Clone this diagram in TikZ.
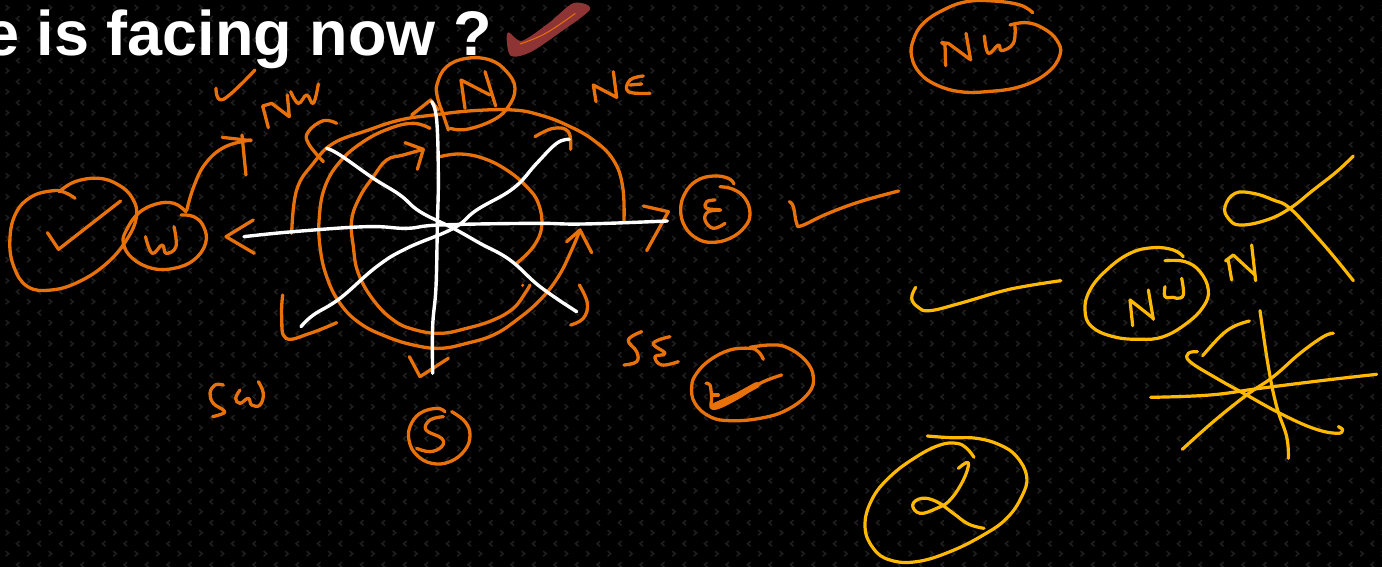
\documentclass[tikz,border=0pt]{standalone}
\usepackage{fontspec}
\setmainfont{Liberation Sans}
\definecolor{inkorange}{HTML}{E8710A}
\definecolor{inkgold}{HTML}{FFB900}
\definecolor{inkred}{HTML}{8E3434}
\definecolor{tex}{HTML}{1F1F1F}
\tikzset{
  ink/.style={draw=inkorange,line width=3.3pt,line cap=round,line join=round},
  gold/.style={draw=inkgold,line width=3.2pt,line cap=round,line join=round},
  chalk/.style={draw=white,line width=3.4pt,line cap=round,line join=round},
  sm/.style={smooth,tension=0.7},
  zA/.style={xshift=200pt,yshift=-60pt,x=0.33333pt,y=-0.33333pt},
  zB/.style={xshift=1060pt,yshift=-140pt,x=0.33333pt,y=-0.33333pt},
  zC/.style={x=0.3954pt,y=-0.33333pt},
  zD/.style={xshift=880pt,x=0.33333pt,y=-0.33333pt},
  zE/.style={xshift=660pt,yshift=-160pt,x=0.33333pt,y=-0.33333pt},
  zF/.style={xshift=680pt,yshift=-330pt,x=0.33333pt,y=-0.33333pt},
  zG/.style={xshift=190pt,yshift=-370pt,x=0.33333pt,y=-0.33333pt},
  zH/.style={xshift=850pt,yshift=-270pt,x=0.33333pt,y=-0.33333pt},
}
\begin{document}
\begin{tikzpicture}[x=1pt,y=-1pt]
\useasboundingbox (0,0) rectangle (1382,567);
\clip (0,0) rectangle (1382,567);
\fill[black] (0,0) rectangle (1382,567);
% background texture
\foreach \r in {0,...,27}{
  \foreach \c in {0,...,65}{
    \pgfmathsetmacro{\px}{7.2+21.5*\c}
    \pgfmathsetmacro{\pya}{7.7+21*\r}
    \pgfmathsetmacro{\pxb}{18+21.5*\c-21.5}
    \pgfmathsetmacro{\pyb}{18.7+21*\r}
    \draw[tex,line width=1.5pt] (\px-1.5,\pya-2.5)--(\px+1.5,\pya)--(\px-1.5,\pya+2.5);
    \draw[tex,line width=1.5pt] (\pxb+1.5,\pyb-2.5)--(\pxb-1.5,\pyb)--(\pxb+1.5,\pyb+2.5);
  }
}
% title
\node[anchor=base west,inner sep=0pt,text=white,font=\fontsize{63}{63}\selectfont\bfseries] (title) at (-16,56) {e is facing now ?};

% compass orange strokes
\begin{scope}[zA]
\draw[ink] plot[sm] coordinates {(1272,485)(1268,380)(1240,300)(1180,240)(1100,195)(1020,165)(940,150)(820,152)(700,165)(600,180)(500,212)(400,250)(340,310)(290,390)(275,520)};
\draw[ink] plot[sm] coordinates {(690,205)(640,190)(570,205)(490,245)(420,305)(375,380)(358,470)(360,560)(380,650)(420,730)(480,790)(560,830)(640,855)(720,865)(800,850)(880,825)(950,780)(1020,720)(1075,650)(1115,570)(1140,510)};
\draw[ink] (1100,545)--(1140,510)--(1175,578);
\draw[ink] plot[sm] coordinates {(720,290)(780,282)(850,295)(920,330)(980,380)(1015,430)(1025,500)(1000,560)(950,610)};
\draw[ink] plot[sm] coordinates {(670,268)(610,285)(560,300)(520,350)(480,410)(455,480)(460,560)(475,640)(520,720)(580,780)(640,808)(720,820)(800,805)(880,780)(940,745)(975,700)(990,675)};
\draw[ink] (615,248)--(670,268)--(652,328);
\fill[inkorange] (968,676) circle (5);
\draw[ink] plot[sm] coordinates {(410,190)(370,182)(325,215)(325,250)(370,305)};
\draw[ink] plot[sm] coordinates {(1005,230)(1060,205)(1105,215)(1112,268)};
\draw[ink] (1330,438)--(1405,455)--(1340,572);
\draw[ink] (160,480)--(78,530)--(163,580);
\draw[ink] plot[sm] coordinates {(248,705)(245,770)(258,835)(330,820)(410,788)};
\draw[ink] plot[sm] coordinates {(1138,675)(1162,730)(1150,775)(1112,795)};
\draw[ink] (628,890)--(660,950)--(745,895);
\draw[ink] (635,165)--(692,120)--(715,150);
% N circle and letter
\draw[ink] plot[sm] coordinates {(745,210)(730,165)(712,110)(712,70)(740,20)(800,-5)(870,0)(920,35)(945,85)(925,140)(880,180)(800,208)(750,205)};
\draw[ink] (795,145)--(783,60)--(870,105);
\draw[ink] (855,35)--(887,138);
% NW
\draw[ink] (205,203)--(188,138)--(215,130)--(268,170)--(262,105);
\draw[ink] plot[sm] coordinates {(272,95)(295,130)(320,105)(340,130)(355,72)};
\draw[ink] plot[sm] coordinates {(48,85)(70,118)(165,30)};
% NE
\draw[ink] (1188,125)--(1180,75)--(1250,112)--(1240,35);
\draw[ink] plot[sm] coordinates {(1330,48)(1290,60)(1285,95)(1350,100)};
\draw[ink] (1290,75)--(1325,72);
% SE
\draw[ink] plot[sm] coordinates {(1325,815)(1285,840)(1310,875)(1310,905)(1272,915)};
\draw[ink] plot[sm] coordinates {(1410,830)(1360,850)(1395,880)(1365,890)(1385,915)(1435,905)};
% white lines
\draw[chalk] plot[sm] coordinates {(695,125)(710,180)(715,350)(712,500)(708,680)(698,800)(698,940)};
\draw[chalk] plot[sm] coordinates {(132,530)(280,515)(500,500)(620,505)(720,495)(1000,490)(1150,492)(1402,483)};
\draw[chalk] plot[sm] coordinates {(380,265)(420,285)(520,355)(600,405)(660,455)(760,505)(840,550)(930,600)(1020,680)(1130,755)};
\draw[chalk] plot[sm] coordinates {(303,800)(340,765)(420,715)(530,620)(620,565)(760,505)(830,450)(940,385)(1010,310)(1070,250)(1108,238)};
\end{scope}

% W group and red check
\begin{scope}[zC]
\draw[ink] plot[sm] coordinates {(150,575)(190,545)(250,535)(300,555)(335,595)(345,650)(320,720)(270,790)(200,845)(130,870)(70,860)(35,800)(25,720)(40,640)(80,590)(135,572)(165,578)(190,595)};
\draw[ink] (120,698)--(148,748)--(305,603);
\draw[ink] plot[sm] coordinates {(470,635)(440,610)(395,612)(350,640)(320,690)(312,730)(335,775)(385,805)(440,805)(490,780)(520,730)(515,680)(490,650)(458,645)};
\draw[ink] plot[sm] coordinates {(368,710)(385,760)(410,735)(420,760)(445,740)(440,680)};
\draw[ink] plot[sm] coordinates {(472,632)(490,560)(520,490)(570,440)(635,420)};
\draw[ink] (562,412)--(635,422);
\draw[ink] (612,405)--(622,525);
\fill[inkred,draw=inkred,line width=1.5pt,line join=round] plot[smooth cycle,tension=0.5] coordinates {(1285,100)(1292,165)(1340,155)(1410,100)(1490,28)(1450,12)(1390,70)(1320,125)};
\draw[inkorange,line width=1pt] plot[sm] coordinates {(1315,132)(1380,100)(1455,40)};
\end{scope}

% top right NW
\begin{scope}[zD]
\draw[ink] plot[sm] coordinates {(458,38)(420,15)(340,3)(260,5)(190,30)(130,70)(100,120)(95,170)(120,220)(170,255)(240,275)(320,275)(420,260)(500,220)(540,165)(530,120)(490,85)(440,68)(390,75)};
\draw[ink] (197,197)--(195,135)--(185,128)--(205,130)--(270,178);
\draw[ink] (258,100)--(272,180);
\draw[ink] plot[sm] coordinates {(313,108)(325,160)(355,135)(365,152)(400,130)(405,78)};
\end{scope}

% E circle and check
\begin{scope}[zE]
\draw[ink] plot[sm] coordinates {(222,72)(205,55)(160,48)(110,62)(75,100)(62,150)(75,200)(110,235)(155,247)(210,235)(255,200)(270,160)(255,115)(220,88)(180,80)};
\draw[ink] plot[sm] coordinates {(165,120)(140,125)(140,145)(182,150)(145,155)(135,180)(160,205)(195,190)};
\draw[ink] plot[sm] coordinates {(388,125)(400,140)(410,190)(425,197)(500,162)(600,125)(716,93)};
\end{scope}

% SE ellipse and check
\begin{scope}[zF]
\draw[ink] plot[sm] coordinates {(250,88)(235,65)(210,55)(150,60)(90,90)(50,130)(35,170)(45,220)(90,260)(150,272)(240,265)(320,240)(385,190)(400,140)(375,90)(320,52)(270,45)(210,52)};
\draw[ink] plot[sm] coordinates {(78,160)(90,165)(95,200)(100,235)(170,205)(240,160)(305,135)};
\draw[ink] (95,195)--(115,195);
\draw[draw=inkorange,line width=6pt,line cap=round] (98,230)--(170,198)--(230,165);
\end{scope}

% SW and S
\begin{scope}[zG]
\draw[ink] plot[sm] coordinates {(100,45)(75,45)(60,70)(70,100)(100,120)(100,130)(68,140)};
\draw[ink] plot[sm] coordinates {(150,60)(137,85)(150,100)(175,85)(185,105)(210,105)(220,70)(205,35)};
\draw[ink] plot[sm] coordinates {(765,125)(740,115)(690,130)(660,170)(658,215)(680,255)(725,280)(780,275)(825,240)(840,195)(825,155)(785,125)};
\draw[ink] plot[sm] coordinates {(760,140)(720,150)(708,180)(755,205)(755,230)(720,245)(680,235)};
\end{scope}

% gold left
\begin{scope}[zH]
\draw[gold] plot[sm] coordinates {(197,52)(185,85)(205,112)(240,122)(330,100)(450,65)(530,48)(632,32)};
\draw[gold] plot[sm] coordinates {(232,498)(300,503)(380,505)(450,525)(500,560)(530,620)(515,680)(470,745)(400,795)(300,845)(200,875)(120,870)(70,835)(45,770)(65,690)(120,620)(200,560)(270,525)(320,520)(350,535)(372,562)};
\draw[gold] plot[sm] coordinates {(325,595)(355,578)(340,630)(300,690)(260,715)(210,730)(188,705)(215,685)(260,695)(310,730)(355,762)(402,775)};
\end{scope}

% gold right
\begin{scope}[zB]
\draw[gold] plot[sm] coordinates {(880,48)(830,95)(760,150)(690,205)(620,240)(540,255)(505,235)(495,200)(525,160)(580,160)(640,180)(690,205)(770,290)(830,360)(880,422)};
\draw[gold] (515,420)--(505,362)--(497,362)--(520,345)--(585,405);
\draw[gold] (575,315)--(587,422);
\draw[gold] plot[sm] coordinates {(370,350)(340,330)(280,323)(210,340)(140,390)(90,450)(75,510)(95,560)(160,590)(240,598)(310,590)(380,550)(430,500)(445,450)(420,395)(375,365)(315,362)};
\draw[gold] (218,557)--(210,480)--(280,535);
\draw[gold] (265,450)--(280,538);
\draw[gold] plot[sm] coordinates {(315,440)(315,470)(340,472)(350,475)(370,465)(365,415)};
\draw[gold] plot[sm] coordinates {(600,512)(625,680)(650,800)(680,890)(685,955)};
\draw[gold] plot[sm] coordinates {(272,772)(450,765)(600,745)(800,720)(950,703)};
\draw[gold] plot[sm] coordinates {(412,635)(385,640)(390,665)(470,715)(560,765)(660,820)(760,865)(830,880)(848,870)(835,860)};
\draw[gold] plot[sm] coordinates {(367,928)(460,845)(560,765)(640,710)(720,640)(790,590)(820,580)};
\draw[gold] plot[sm] coordinates {(428,647)(480,590)(520,560)(568,543)};
\end{scope}
\end{tikzpicture}
\end{document}
